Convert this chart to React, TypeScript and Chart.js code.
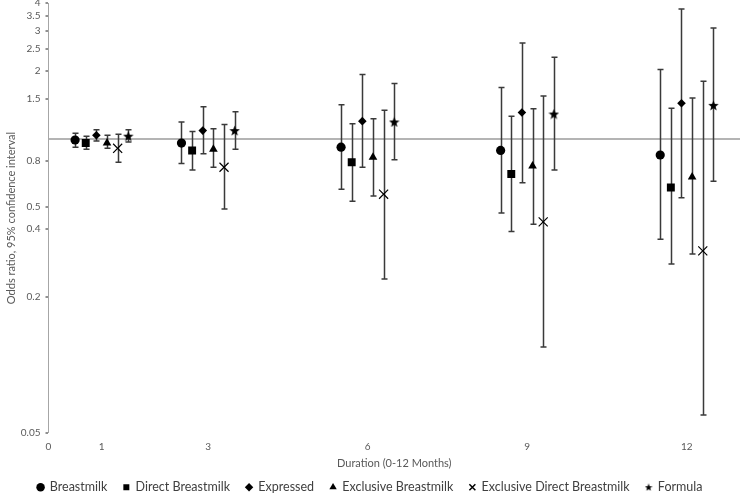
import React, { useEffect, useRef } from 'react';
import { Chart, registerables } from 'chart.js';

Chart.register(...registerables);

const months = [1, 3, 6, 9, 12];
const xTickValues = [0, 1, 3, 6, 9, 12];
const yTickValues = [0.05, 0.2, 0.4, 0.5, 0.8, 1, 1.5, 2, 2.5, 3, 3.5, 4];
const seriesNames = [
  'Breastmilk',
  'Direct Breastmilk',
  'Expressed',
  'Exclusive Breastmilk',
  'Exclusive Direct Breastmilk',
  'Formula',
];
const seriesOffsets = [-0.5, -0.3, -0.1, 0.1, 0.3, 0.5];

const breastmilkOR = [0.99, 0.96, 0.92, 0.89, 0.85];
const breastmilkLo = [0.92, 0.78, 0.6, 0.47, 0.36];
const breastmilkHi = [1.06, 1.19, 1.42, 1.69, 2.03];

const directOR = [0.96, 0.89, 0.79, 0.7, 0.61];
const directLo = [0.9, 0.73, 0.53, 0.39, 0.28];
const directHi = [1.03, 1.08, 1.17, 1.26, 1.37];

const expressedOR = [1.04, 1.09, 1.2, 1.31, 1.44];
const expressedLo = [0.98, 0.86, 0.75, 0.64, 0.55];
const expressedHi = [1.1, 1.39, 1.93, 2.66, 3.76];

const exclusiveOR = [0.96, 0.9, 0.83, 0.76, 0.68];
const exclusiveLo = [0.91, 0.75, 0.56, 0.42, 0.31];
const exclusiveHi = [1.04, 1.11, 1.23, 1.36, 1.52];

const exclDirectOR = [0.91, 0.75, 0.57, 0.43, 0.32];
const exclDirectLo = [0.79, 0.49, 0.24, 0.12, 0.06];
const exclDirectHi = [1.05, 1.16, 1.34, 1.55, 1.8];

const formulaOR = [1.03, 1.09, 1.19, 1.29, 1.41];
const formulaLo = [0.97, 0.9, 0.81, 0.73, 0.65];
const formulaHi = [1.1, 1.32, 1.76, 2.3, 3.1];

const FONT = 'Lato, "Noto Sans", sans-serif';

function makeStar(size: number): HTMLCanvasElement {
  const c = document.createElement('canvas');
  c.width = size;
  c.height = size;
  const g = c.getContext('2d')!;
  const cx = size / 2;
  const cy = size / 2 + size * 0.04;
  const R = size / 2;
  const r = R * 0.42;
  g.beginPath();
  for (let i = 0; i < 10; i++) {
    const ang = -Math.PI / 2 + (i * Math.PI) / 5;
    const rr = i % 2 === 0 ? R : r;
    const px = cx + rr * Math.cos(ang);
    const py = cy + rr * Math.sin(ang);
    if (i === 0) g.moveTo(px, py);
    else g.lineTo(px, py);
  }
  g.closePath();
  g.fillStyle = '#000';
  g.fill();
  return c;
}

const errorBarPlugin = {
  id: 'errorBars',
  beforeDatasetsDraw(chart: any) {
    const ctx = chart.ctx;
    const yScale = chart.scales.y;
    ctx.save();
    ctx.strokeStyle = '#3a3a3a';
    ctx.lineWidth = 1.5;
    chart.data.datasets.forEach((ds: any, di: number) => {
      const meta = chart.getDatasetMeta(di);
      meta.data.forEach((pt: any, i: number) => {
        const lo = yScale.getPixelForValue(ds.lower[i]);
        const hi = yScale.getPixelForValue(ds.upper[i]);
        const x = Math.round(pt.x) + 0.5;
        ctx.beginPath();
        ctx.moveTo(x, lo);
        ctx.lineTo(x, hi);
        ctx.moveTo(x - 3, lo);
        ctx.lineTo(x + 3, lo);
        ctx.moveTo(x - 3, hi);
        ctx.lineTo(x + 3, hi);
        ctx.stroke();
      });
    });
    ctx.restore();
  },
};

export default function App() {
  const ref = useRef<HTMLCanvasElement | null>(null);

  useEffect(() => {
    if (!ref.current) return;
    const star = makeStar(11);
    const starSmall = makeStar(8);
    const values = [breastmilkOR, directOR, expressedOR, exclusiveOR, exclDirectOR, formulaOR];
    const lows = [breastmilkLo, directLo, expressedLo, exclusiveLo, exclDirectLo, formulaLo];
    const highs = [breastmilkHi, directHi, expressedHi, exclusiveHi, exclDirectHi, formulaHi];
    const styles: any[] = ['circle', 'rect', 'rectRot', 'triangle', 'crossRot', star];
    const radii = [4.6, 5.6, 4.3, 5, 6.4, 5];
    const legendStyles: any[] = ['circle', 'rect', 'rectRot', 'triangle', 'crossRot', starSmall];

    const datasets = seriesNames.map((name, s) => ({
      label: name,
      data: months.map((m, i) => ({ x: m + seriesOffsets[s], y: values[s][i] })),
      lower: lows[s],
      upper: highs[s],
      pointStyle: styles[s],
      pointRadius: radii[s],
      pointBackgroundColor: '#000',
      pointBorderColor: '#000',
      pointBorderWidth: s === 4 ? 1.2 : 0,
      backgroundColor: '#000',
      borderColor: '#000',
      showLine: false,
    }));

    const chart = new Chart(ref.current, {
      type: 'scatter',
      data: { datasets: datasets as any },
      plugins: [errorBarPlugin],
      options: {
        animation: false,
        responsive: false,
        devicePixelRatio: 1,
        layout: { autoPadding: false, padding: { top: 3, right: 1, left: 0, bottom: 0 } },
        plugins: {
          tooltip: { enabled: false },
          legend: {
            position: 'bottom',
            maxHeight: 29,
            labels: {
              usePointStyle: true,
              boxWidth: 6,
              boxHeight: 6,
              padding: 16,
              color: '#404040',
              font: { family: FONT, size: 12.5 },
              generateLabels(chart: any) {
                const items = Chart.defaults.plugins.legend.labels.generateLabels(chart);
                return items.map((it: any, i: number) => ({
                  ...it,
                  pointStyle: legendStyles[i],
                  fillStyle: '#000',
                  strokeStyle: '#000',
                  lineWidth: i === 4 ? 1.5 : 0,
                }));
              },
            },
          },
        },
        scales: {
          x: {
            type: 'linear',
            min: 0,
            max: 13,
            bounds: 'data',
            afterBuildTicks: (s: any) => {
              s.ticks = xTickValues.map((v) => ({ value: v }));
            },
            afterFit: (s: any) => {
              s.height = 32;
            },
            grid: { display: false, drawTicks: false },
            border: { display: false },
            ticks: {
              color: '#595959',
              font: { family: FONT, size: 10 },
              padding: 8,
              maxRotation: 0,
              autoSkip: false,
              callback: (v: any) => String(v),
            },
            title: {
              display: true,
              text: 'Duration (0-12 Months)',
              color: '#595959',
              font: { family: FONT, size: 11 },
              padding: { top: 0, bottom: -4.6 },
            },
          },
          y: {
            type: 'logarithmic',
            min: 0.05,
            max: 4,
            bounds: 'data',
            afterBuildTicks: (s: any) => {
              s.ticks = yTickValues.map((v) => ({ value: v }));
            },
            afterFit: (s: any) => {
              s.width = 48.5;
              s.paddingTop = 0;
              s.paddingBottom = 0;
            },
            border: { display: true, color: '#a6a6a6', width: 1 },
            grid: {
              drawOnChartArea: true,
              color: (c: any) => (c.tick && c.tick.value === 1 ? '#b4b4b4' : 'rgba(0,0,0,0)'),
              lineWidth: (c: any) => (c.tick && c.tick.value === 1 ? 2 : 0),
              tickColor: (c: any) => (c.tick && c.tick.value === 1 ? 'rgba(0,0,0,0)' : '#222'),
              tickLength: 3,
              tickWidth: 1,
            },
            ticks: {
              color: '#595959',
              font: { family: FONT, size: 10 },
              padding: 5,
              autoSkip: false,
              callback: (v: any) => (v === 1 ? '' : String(v)),
            },
            title: {
              display: true,
              text: 'Odds ratio, 95% confidence interval',
              color: '#595959',
              font: { family: FONT, size: 11 },
              padding: { top: 5, bottom: 0 },
            },
          },
        },
      } as any,
    });
    return () => chart.destroy();
  }, []);

  return (
    <div style={{ position: 'fixed', left: 0, top: 0, width: 741, height: 494, background: '#fff' }}>
      <canvas ref={ref} width={741} height={494} style={{ width: 741, height: 494, display: 'block' }} />
    </div>
  );
}
